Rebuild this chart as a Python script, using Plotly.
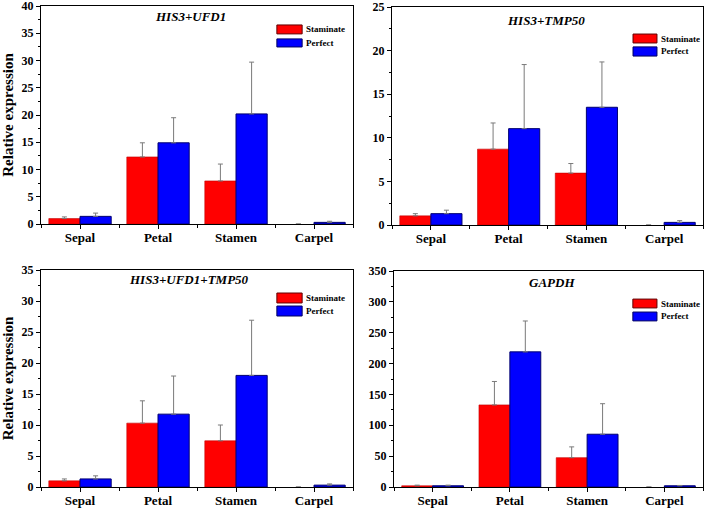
import plotly.graph_objects as go
from plotly.subplots import make_subplots

categories = ["Sepal", "Petal", "Stamen", "Carpel"]
series_names = ["Staminate", "Perfect"]
panel_titles = ["HIS3+UFD1", "HIS3+TMP50", "HIS3+UFD1+TMP50", "GAPDH"]

# values (mean) and upper error bar heights for each panel
stam_vals = [
    [1.0, 12.3, 7.9, 0.0],
    [1.05, 8.7, 5.95, 0.0],
    [1.0, 10.3, 7.45, 0.0],
    [2.0, 133.0, 47.5, 0.0],
]
stam_errs = [
    [0.3, 2.6, 3.1, 0.0],
    [0.25, 3.0, 1.1, 0.0],
    [0.3, 3.6, 2.55, 0.0],
    [1.0, 38.0, 17.5, 0.0],
]
perf_vals = [
    [1.4, 14.9, 20.2, 0.3],
    [1.3, 11.05, 13.5, 0.3],
    [1.3, 11.75, 18.0, 0.3],
    [2.0, 219.0, 85.5, 2.0],
]
perf_errs = [
    [0.6, 4.6, 9.5, 0.2],
    [0.4, 7.35, 5.2, 0.2],
    [0.5, 6.15, 8.9, 0.2],
    [1.0, 50.0, 49.5, 0.5],
]
y_max = [40, 25, 35, 350]
y_dtick = [5, 5, 5, 50]

FONT = "Liberation Serif"
RED = "#ff0000"
BLUE = "#0000ff"

xpos = list(range(len(categories)))

fig = make_subplots(rows=2, cols=2)

x_domains = [[41/708, 353/708], [392/708, 703/708], [41/708, 353/708], [394/708, 703/708]]
y_domains = [[1-224/509, 1-6/509], [1-225/509, 1-7/509], [1-487/509, 1-270/509], [1-487/509, 1-271/509]]

legend_pos = [
    (0.756, 0.837, 0.872, 0.913, 0.812, 0.849, 0.844),
    (0.775, 0.852, 0.835, 0.876, 0.775, 0.817, 0.859),
    (0.756, 0.837, 0.848, 0.894, 0.788, 0.834, 0.844),
    (0.773, 0.851, 0.829, 0.870, 0.769, 0.810, 0.858),
]
title_pos = [(0.48, 0.95), (0.495, 0.94), (0.474, 0.954), (0.51, 0.949)]

for i in range(4):
    r, c = i // 2 + 1, i % 2 + 1
    fig.add_trace(go.Bar(
        x=xpos, y=stam_vals[i], name=series_names[0],
        marker=dict(color=RED, line=dict(color="#c00000", width=[0.6 if v > 0 else 0 for v in stam_vals[i]])),
        error_y=dict(type="data", symmetric=False, array=stam_errs[i],
                     arrayminus=[0]*4, color="#7a7a7a", thickness=1, width=2.5),
        showlegend=False), row=r, col=c)
    fig.add_trace(go.Bar(
        x=xpos, y=perf_vals[i], name=series_names[1],
        marker=dict(color=BLUE, line=dict(color="#000070", width=1)),
        error_y=dict(type="data", symmetric=False, array=perf_errs[i],
                     arrayminus=[0]*4, color="#7a7a7a", thickness=1, width=2.5),
        showlegend=False), row=r, col=c)

    xa = "xaxis" if i == 0 else f"xaxis{i+1}"
    ya = "yaxis" if i == 0 else f"yaxis{i+1}"
    xref = "x" if i == 0 else f"x{i+1}"
    yref = "y" if i == 0 else f"y{i+1}"
    fig.layout[xa].update(
        domain=x_domains[i], automargin=False, range=[-0.5, len(categories) - 0.5],
        tickmode="array", tickvals=xpos, ticktext=categories,
        showline=True, linecolor="black", linewidth=1, mirror=True,
        ticks="outside", ticklen=4, tickcolor="black", ticklabelstandoff=-3,
        ticklabeloverflow="allow",
        minor=dict(tickmode="linear", tick0=0.5, dtick=1, ticks="outside", ticklen=3, tickcolor="black"),
        tickfont=dict(family=FONT, size=13, color="black", weight="bold"),
        showgrid=False, zeroline=False)
    fig.layout[ya].update(
        domain=y_domains[i], automargin=False, range=[0, y_max[i]], dtick=y_dtick[i],
        showline=True, linecolor="black", linewidth=1, mirror=True,
        ticks="outside", ticklen=4, tickcolor="black", ticklabeloverflow="allow",
        minor=dict(ticks="outside", ticklen=2, dtick=y_dtick[i]/2, tickcolor="black"),
        tickfont=dict(family=FONT, size=12, color="black", weight="bold"),
        showgrid=False, zeroline=False)
    if c == 1:
        fig.layout[ya].update(title=dict(text="Relative expression", standoff=6,
                                         font=dict(family=FONT, size=15, color="black", weight="bold")))

    bx0, bx1, ry0, ry1, by0, by1, tx = legend_pos[i]
    fig.add_shape(type="rect", xref=f"{xref} domain", yref=f"{yref} domain",
                  x0=bx0, x1=bx1, y0=ry0, y1=ry1, fillcolor=RED, line=dict(color="#600000", width=1))
    fig.add_shape(type="rect", xref=f"{xref} domain", yref=f"{yref} domain",
                  x0=bx0, x1=bx1, y0=by0, y1=by1, fillcolor=BLUE, line=dict(color="#000060", width=1))
    fig.add_annotation(xref=f"{xref} domain", yref=f"{yref} domain", x=tx, y=(ry0+ry1)/2,
                       text=series_names[0], showarrow=False, xanchor="left", yanchor="middle",
                       font=dict(family=FONT, size=9, color="black", weight="bold"))
    fig.add_annotation(xref=f"{xref} domain", yref=f"{yref} domain", x=tx, y=(by0+by1)/2,
                       text=series_names[1], showarrow=False, xanchor="left", yanchor="middle",
                       font=dict(family=FONT, size=9, color="black", weight="bold"))
    fig.add_annotation(xref=f"{xref} domain", yref=f"{yref} domain",
                       x=title_pos[i][0], y=title_pos[i][1],
                       text=f"<b><i>{panel_titles[i]}</i></b>", showarrow=False,
                       xanchor="center", yanchor="middle",
                       font=dict(family=FONT, size=13, color="black"))

fig.update_layout(
    width=708, height=509, barmode="group", bargap=0.2, bargroupgap=0,
    margin=dict(l=0, r=0, t=0, b=0, autoexpand=False),
    plot_bgcolor="white", paper_bgcolor="white",
    font=dict(family=FONT, color="black"),
)

fig.write_html("out.html", config={"displayModeBar": False},
               post_script="document.body.style.margin='0';document.body.style.overflow='hidden';")
